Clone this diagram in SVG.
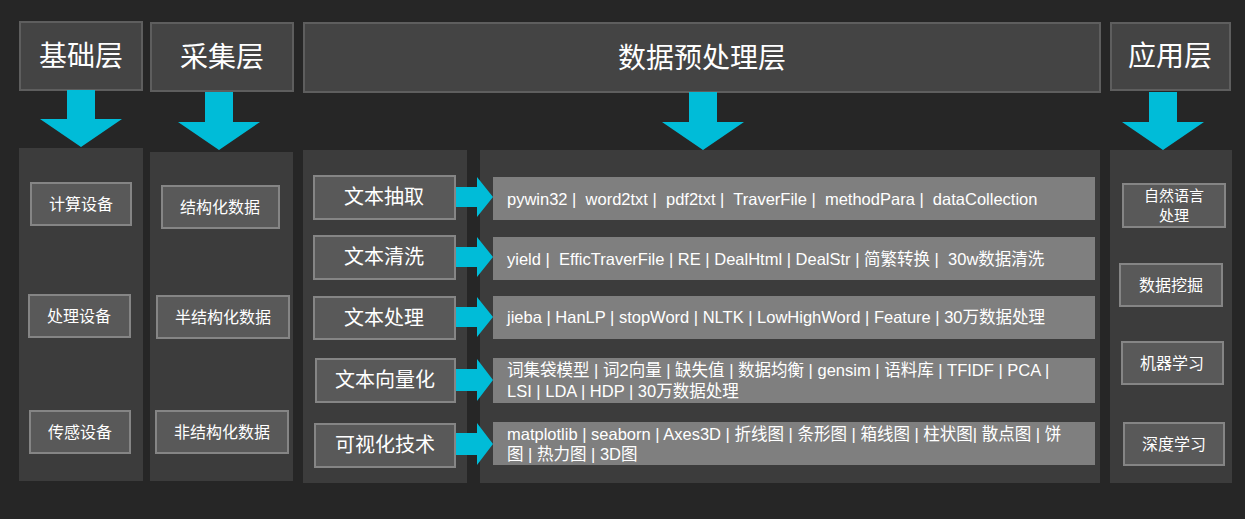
<svg xmlns="http://www.w3.org/2000/svg" width="1245" height="519" viewBox="0 0 1245 519">
<style>
text{font-family:"Microsoft YaHei","Noto Sans CJK SC","Liberation Sans",sans-serif;fill:#fff}
.hd{fill:#444;stroke:#5e5e5e;stroke-width:2}
.hdt{font-size:28px;text-anchor:middle}
.pn{fill:#3c3c3c}
.bx{fill:#595959;stroke:#858585;stroke-width:2}
.bt{font-size:16px;text-anchor:middle}
.st{font-size:15px;text-anchor:middle}
.mt{font-size:20px;text-anchor:middle}
.bar{fill:#7f7f7f}
.brt{font-size:16.5px;white-space:pre;font-family:"Liberation Sans","Noto Sans CJK SC",sans-serif}
.ar{fill:#00bcd8}
</style>
<rect width="1245" height="519" fill="#262626"/>
<g id="headers">
<g id="h1"><rect class="hd" x="20" y="22" width="122" height="68"/><text class="hdt" x="81" y="66">基础层</text></g>
<g id="h2"><rect class="hd" x="151" y="23" width="142" height="68"/><text class="hdt" x="222" y="67">采集层</text></g>
<g id="h3"><rect class="hd" x="304" y="23" width="796" height="69"/><text class="hdt" x="702" y="68">数据预处理层</text></g>
<g id="h4"><rect class="hd" x="1111" y="23" width="119" height="67"/><text class="hdt" x="1170" y="66">应用层</text></g>
</g>
<g id="panels">
<rect class="pn" x="19" y="148" width="124" height="333"/>
<rect class="pn" x="150" y="152" width="143" height="329"/>
<rect class="pn" x="303" y="150" width="164" height="333"/>
<rect class="pn" x="480" y="150" width="620" height="333"/>
<rect class="pn" x="1110" y="150" width="122" height="333"/>
</g>
<g id="connectors">
<path class="ar" d="M67 90h28v29h27l-41 28l-41-28h27z"/>
<path class="ar" d="M205 92h28v30h27l-41 28l-41-28h27z"/>
<path class="ar" d="M689 92h28v30h27l-41 28l-41-28h27z"/>
<path class="ar" d="M1149 92h28v30h27l-41 28l-41-28h27z"/>
<path class="ar" d="M455 187h22v-10l16 20l-16 20v-10h-22z"/>
<path class="ar" d="M455 247h22v-10l16 20l-16 20v-10h-22z"/>
<path class="ar" d="M455 307h22v-10l16 20l-16 20v-10h-22z"/>
<path class="ar" d="M455 369h22v-10l16 21l-16 21v-10h-22z"/>
<path class="ar" d="M455 433h22v-10l16 21l-16 21v-10h-22z"/>
</g>
<g id="col1">
<g id="n1"><rect class="bx" x="31" y="183" width="100" height="42"/><text class="bt" x="81" y="210">计算设备</text></g>
<g id="n2"><rect class="bx" x="29" y="295" width="101" height="42"/><text class="bt" x="79" y="322">处理设备</text></g>
<g id="n3"><rect class="bx" x="30" y="411" width="100" height="42"/><text class="bt" x="80" y="438">传感设备</text></g>
</g>
<g id="col2">
<g id="n4"><rect class="bx" x="162" y="186" width="117" height="42"/><text class="bt" x="220" y="213">结构化数据</text></g>
<g id="n5"><rect class="bx" x="157" y="296" width="132" height="42"/><text class="bt" x="223" y="323">半结构化数据</text></g>
<g id="n6"><rect class="bx" x="156" y="411" width="132" height="42"/><text class="bt" x="222" y="438">非结构化数据</text></g>
</g>
<g id="col3">
<g id="n7"><rect class="bx" x="314" y="176" width="141" height="43"/><text class="mt" x="384" y="204">文本抽取</text></g>
<g id="n8"><rect class="bx" x="314" y="236" width="141" height="43"/><text class="mt" x="384" y="264">文本清洗</text></g>
<g id="n9"><rect class="bx" x="314" y="297" width="141" height="42"/><text class="mt" x="384" y="325">文本处理</text></g>
<g id="n10"><rect class="bx" x="316" y="359" width="139" height="43"/><text class="mt" x="385" y="387">文本向量化</text></g>
<g id="n11"><rect class="bx" x="315" y="424" width="140" height="43"/><text class="mt" x="385" y="452">可视化技术</text></g>
</g>
<g id="col4">
<g id="b1"><rect class="bar" x="493" y="177" width="602" height="43"/><text class="brt" x="507" y="205">pywin32 |  word2txt |  pdf2txt |  TraverFile |  methodPara |  dataCollection</text></g>
<g id="b2"><rect class="bar" x="493" y="237" width="602" height="43"/><text class="brt" x="507" y="265">yield |  EfficTraverFile | RE | DealHtml | DealStr | 简繁转换 |  30w数据清洗</text></g>
<g id="b3"><rect class="bar" x="493" y="296" width="602" height="43"/><text class="brt" x="507" y="323">jieba | HanLP | stopWord | NLTK | LowHighWord | Feature | 30万数据处理</text></g>
<g id="b4"><rect class="bar" x="493" y="358" width="602" height="45"/><text class="brt" x="507" y="376">词集袋模型 | 词2向量 | 缺失值 | 数据均衡 | gensim | 语料库 | TFIDF | PCA |</text><text class="brt" x="507" y="397">LSI | LDA | HDP | 30万数据处理</text></g>
<g id="b5"><rect class="bar" x="493" y="422" width="602" height="43"/><text class="brt" x="507" y="440">matplotlib | seaborn | Axes3D | 折线图 | 条形图 | 箱线图 | 柱状图| 散点图 | 饼</text><text class="brt" x="507" y="460">图 | 热力图 | 3D图</text></g>
</g>
<g id="col5">
<g id="n12"><rect class="bx" x="1123" y="184" width="102" height="43"/><text class="st" x="1174" y="201">自然语言</text><text class="st" x="1174" y="221">处理</text></g>
<g id="n13"><rect class="bx" x="1120" y="264" width="102" height="42"/><text class="bt" x="1171" y="291">数据挖掘</text></g>
<g id="n14"><rect class="bx" x="1122" y="342" width="101" height="42"/><text class="bt" x="1172" y="369">机器学习</text></g>
<g id="n15"><rect class="bx" x="1124" y="423" width="100" height="42"/><text class="bt" x="1174" y="450">深度学习</text></g>
</g>
</svg>
